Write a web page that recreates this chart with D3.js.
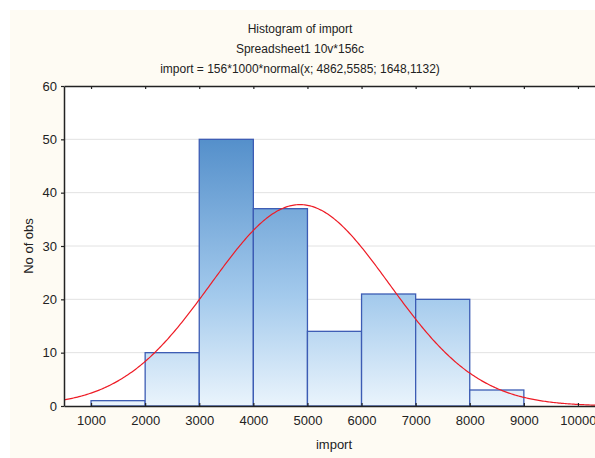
<!DOCTYPE html>
<html>
<head>
<meta charset="utf-8">
<script src="https://cdn.jsdelivr.net/npm/d3@7"></script>
<style>
  body { margin: 0; background: #fff; }
  text { font-family: "Liberation Sans", Arial, sans-serif; fill: #222; }
</style>
</head>
<body>
<div id="chart"></div>
<script>
// bins of import (lower edge) and counts
var binStarts = [1000, 2000, 3000, 4000, 5000, 6000, 7000, 8000];
var binWidth = 1000;
var counts = [1, 10, 50, 37, 14, 21, 20, 3];
var xTicks = [1000, 2000, 3000, 4000, 5000, 6000, 7000, 8000, 9000, 10000];
var yTicks = [0, 10, 20, 30, 40, 50, 60];
var titles = ["Histogram of import", "Spreadsheet1 10v*156c",
              "import = 156*1000*normal(x; 4862,5585; 1648,1132)"];
// fitted normal parameters from the title
var nObs = 156, fitMean = 4862.5585, fitSd = 1648.1132;

var width = 595, height = 458;
var margin = {top: 86, right: -10, bottom: 52, left: 64};
var w = width - margin.left - margin.right;
var h = height - margin.top - margin.bottom;

var svg = d3.select("#chart").append("svg")
    .attr("width", width)
    .attr("height", height);

svg.append("rect")
    .attr("x", 10).attr("y", 10)
    .attr("width", width).attr("height", height)
    .attr("fill", "#fefbf3");

var defs = svg.append("defs");
var grad = defs.append("linearGradient")
    .attr("id", "barFill")
    .attr("gradientUnits", "userSpaceOnUse")
    .attr("x1", 0).attr("y1", 0).attr("x2", 0).attr("y2", h);
grad.append("stop").attr("offset", "0").attr("stop-color", "#4682c2");
grad.append("stop").attr("offset", "0.17").attr("stop-color", "#5590cb");
grad.append("stop").attr("offset", "0.65").attr("stop-color", "#a2c9ec");
grad.append("stop").attr("offset", "1").attr("stop-color", "#eaf4fc");

defs.append("clipPath").attr("id", "plotClip")
  .append("rect").attr("width", w).attr("height", h);

var g = svg.append("g").attr("transform", "translate(" + margin.left + "," + margin.top + ")");

var x = d3.scaleLinear().domain([500, 10500]).range([0, w]);
var y = d3.scaleLinear().domain([0, 60]).range([h, 0]);

g.append("rect").attr("width", w).attr("height", h).attr("fill", "#fff");

// grid
g.selectAll(".grid")
  .data(yTicks.filter(function(d) { return d > 0 && d < 60; }))
  .enter().append("line")
    .attr("x1", 0).attr("x2", w)
    .attr("y1", function(d) { return y(d); })
    .attr("y2", function(d) { return y(d); })
    .attr("stroke", "#e2e2e2");

// bars
g.selectAll(".bar")
  .data(counts)
  .enter().append("rect")
    .attr("x", function(d, i) { return x(binStarts[i]); })
    .attr("y", function(d) { return y(d); })
    .attr("width", function(d, i) { return x(binStarts[i] + binWidth) - x(binStarts[i]); })
    .attr("height", function(d) { return h - y(d); })
    .attr("fill", "url(#barFill)")
    .attr("stroke", "#3c5cb4")
    .attr("stroke-width", 1.3);

// normal curve
var curveX = d3.range(500, 10501, 25);
var line = d3.line()
    .x(function(d) { return x(d); })
    .y(function(d) {
      var z = (d - fitMean) / fitSd;
      return y(nObs * binWidth * Math.exp(-0.5 * z * z) / (fitSd * Math.sqrt(2 * Math.PI)));
    });
g.append("path")
    .datum(curveX)
    .attr("clip-path", "url(#plotClip)")
    .attr("d", line)
    .attr("fill", "none")
    .attr("stroke", "#ee1c26")
    .attr("stroke-width", 1.2);

// axes
var fmt = d3.format("d");
var xAxis = g.append("g")
    .attr("transform", "translate(0," + h + ")")
    .call(d3.axisBottom(x).tickValues(xTicks).tickFormat(fmt).tickSizeInner(-3).tickSizeOuter(0).tickPadding(10));
var xTop = g.append("g")
    .call(d3.axisTop(x).tickValues(xTicks).tickSizeInner(-3).tickSizeOuter(0).tickFormat(""));
var yAxis = g.append("g")
    .call(d3.axisLeft(y).tickValues(yTicks).tickFormat(fmt).tickSizeInner(3).tickSizeOuter(0).tickPadding(4));

[xAxis, xTop, yAxis].forEach(function(a) {
  a.select(".domain").attr("stroke", "#222").attr("stroke-width", 1.5);
  a.selectAll(".tick line").attr("stroke", "#222").attr("stroke-width", 1.2);
  a.selectAll(".tick text").style("font-size", "13px").attr("fill", "#222")
    .style("font-family", "'Liberation Sans', Arial, sans-serif");
});

// titles
svg.selectAll(".title")
  .data(titles)
  .enter().append("text")
    .attr("x", 300)
    .attr("y", function(d, i) { return 33 + i * 20; })
    .attr("text-anchor", "middle")
    .style("font-size", "12px")
    .text(function(d) { return d; });

svg.append("text")
    .attr("x", 334).attr("y", 449)
    .attr("text-anchor", "middle")
    .style("font-size", "13px")
    .text("import");

svg.append("text")
    .attr("transform", "translate(33," + (margin.top + h / 2) + ") rotate(-90)")
    .attr("text-anchor", "middle")
    .style("font-size", "13px")
    .text("No of obs");
</script>
</body>
</html>
